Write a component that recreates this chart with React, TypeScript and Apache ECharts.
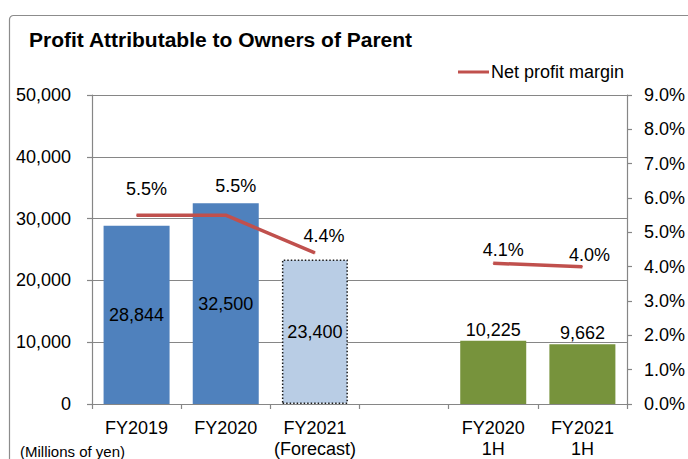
import React, { useEffect, useRef } from "react";
import * as echarts from "echarts";

const categories = ["FY2019", "FY2020", "FY2021\n(Forecast)", "", "FY2020\n1H", "FY2021\n1H"];
const profitValues: (number | null)[] = [28844, 32500, 23400, null, 10225, 9662];
const marginValues: (number | null)[] = [5.5, 5.5, 4.4, null, 4.1, 4.0];
const leftTicks = { min: 0, max: 50000, interval: 10000 };
const rightTicks = { min: 0, max: 9, interval: 1 };
const titleText = "Profit Attributable to Owners of Parent";
const legendName = "Net profit margin";
const unitText = "(Millions of yen)";

// styling (not data)
const barStyles = [
  { color: "#4F81BD", pos: "inside" },
  { color: "#4F81BD", pos: "inside" },
  { color: "#B9CDE5", pos: "inside", dotted: true },
  { color: "#4F81BD", pos: "inside" },
  { color: "#77933C", pos: "top" },
  { color: "#77933C", pos: "top" },
];
const marginLabelOffsets: [number, number][] = [
  [10, -26],
  [10, -29],
  [9, -17],
  [0, 0],
  [10, -13],
  [7, -12],
];

const FONT = "'Liberation Sans', Arial, sans-serif";

export default function App() {
  const ref = useRef<HTMLDivElement>(null);
  useEffect(() => {
    if (!ref.current) return;
    const chart = echarts.init(ref.current, null, { renderer: "svg" });
    const fmt = (v: number) => v.toLocaleString("en-US");
    chart.setOption({
      animation: false,
      backgroundColor: "#ffffff",
      textStyle: { fontFamily: FONT, color: "#000" },
      title: {
        text: titleText,
        left: 29,
        top: 29,
        padding: 0,
        textStyle: { fontFamily: FONT, fontSize: 21, fontWeight: "bold", color: "#000" },
      },
      legend: {
        left: 458,
        top: 63,
        padding: 0,
        itemWidth: 31,
        itemHeight: 3,
        itemGap: 4,
        data: [{ name: legendName, icon: "rect" }],
        textStyle: { fontFamily: FONT, fontSize: 18, color: "#000", padding: [0, 0, 0, -3] },
      },
      graphic: [
        {
          type: "rect",
          left: 7,
          top: 13,
          shape: { width: 720, height: 480, r: 4 },
          style: { fill: "none", stroke: "#8c8c8c", lineWidth: 1.2 },
          z: -1,
        },
        {
          type: "text",
          left: 20,
          top: 444,
          style: { text: unitText, font: `15px ${FONT}`, fill: "#000" },
        },
      ],
      grid: { left: 92, right: 53, top: 95, bottom: 49, containLabel: false },
      xAxis: {
        type: "category",
        data: categories,
        boundaryGap: true,
        axisLine: { lineStyle: { color: "#868686", width: 1.2 } },
        axisTick: { show: true, length: 5, lineStyle: { color: "#868686", width: 1.2 } },
        axisLabel: {
          interval: 0,
          margin: 13,
          fontSize: 18,
          lineHeight: 21,
          color: "#000",
          fontFamily: FONT,
        },
      },
      yAxis: [
        {
          type: "value",
          min: leftTicks.min,
          max: leftTicks.max,
          interval: leftTicks.interval,
          axisLine: { show: true, lineStyle: { color: "#868686", width: 1.2 } },
          axisTick: { show: true, length: 5, lineStyle: { color: "#868686", width: 1.2 } },
          splitLine: { show: true, lineStyle: { color: "#868686", width: 1.2 } },
          axisLabel: { margin: 21, fontSize: 18, color: "#000", fontFamily: FONT, formatter: fmt },
        },
        {
          type: "value",
          min: rightTicks.min,
          max: rightTicks.max,
          interval: rightTicks.interval,
          position: "right",
          axisLine: { show: true, lineStyle: { color: "#868686", width: 1.2 } },
          axisTick: { show: true, length: 5, lineStyle: { color: "#868686", width: 1.2 } },
          splitLine: { show: false },
          axisLabel: {
            margin: 17,
            fontSize: 18,
            color: "#000",
            fontFamily: FONT,
            formatter: (v: number) => v.toFixed(1) + "%",
          },
        },
      ],
      series: [
        {
          name: "Profit",
          type: "bar",
          yAxisIndex: 0,
          barWidth: 66,
          z: 2,
          data: profitValues.map((v, i) => {
            const s = barStyles[i];
            return {
              value: v,
              itemStyle: s.dotted
                ? { color: s.color, borderColor: "#1a1a1a", borderWidth: 1.5, borderType: [1.5, 2] }
                : { color: s.color },
              label: {
                show: v !== null,
                position: s.pos,
                distance: 2,
                fontSize: 18,
                color: "#000",
                fontFamily: FONT,
                formatter: (p: any) => fmt(p.value),
              },
            };
          }),
        },
        {
          name: legendName,
          type: "line",
          yAxisIndex: 1,
          z: 5,
          symbol: "circle",
          symbolSize: 1,
          showSymbol: true,
          connectNulls: false,
          itemStyle: { color: "#C0504D" },
          lineStyle: { color: "#C0504D", width: 3.5 },
          data: marginValues.map((v, i) => ({
            value: v,
            label: {
              show: v !== null,
              position: "inside",
              offset: marginLabelOffsets[i],
              fontSize: 18,
              color: "#000",
              fontFamily: FONT,
              formatter: (p: any) => Number(p.value).toFixed(1) + "%",
            },
          })),
        },
      ],
    });
    return () => chart.dispose();
  }, []);
  return (
    <div
      ref={ref}
      style={{ position: "fixed", left: 0, top: 0, width: 688, height: 459, background: "#fff" }}
    />
  );
}
